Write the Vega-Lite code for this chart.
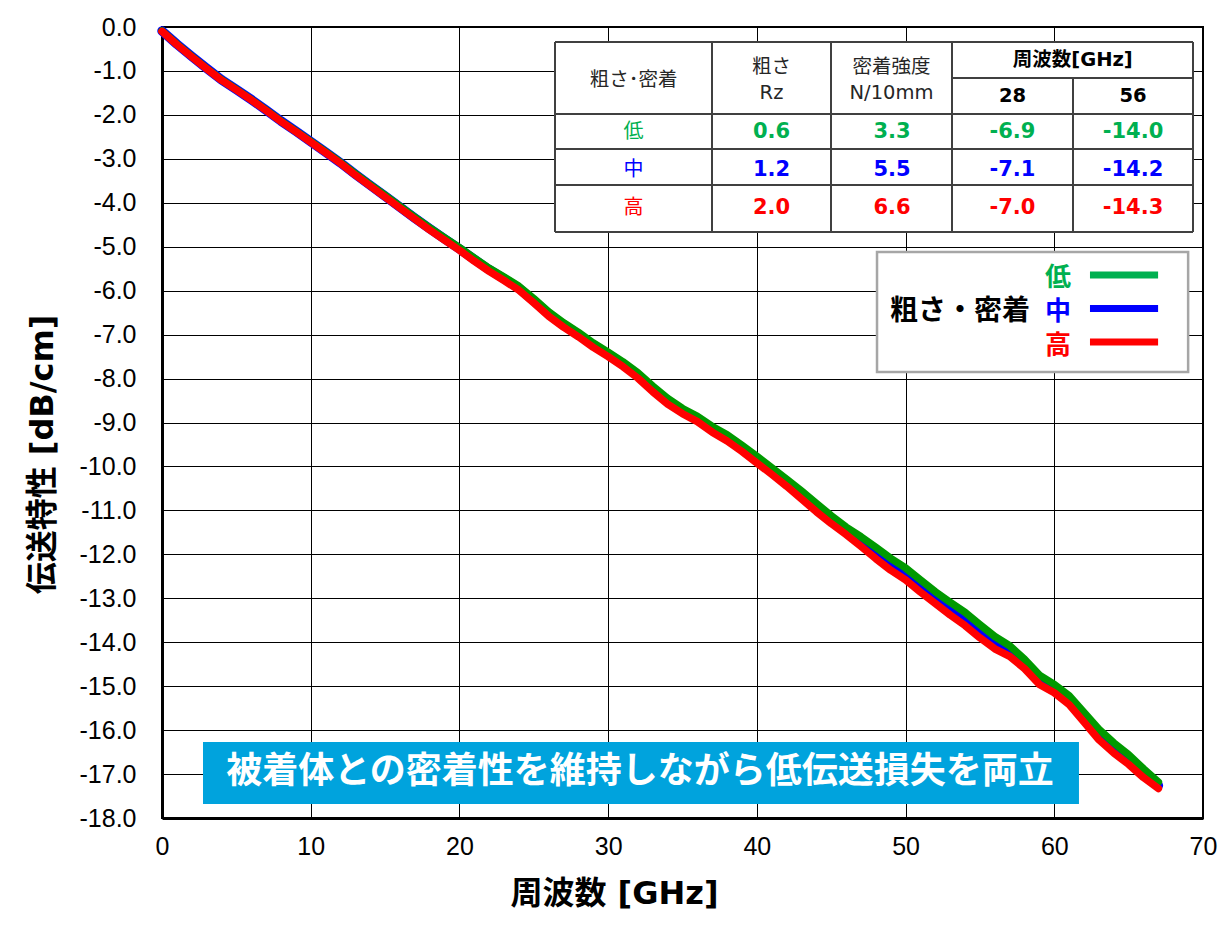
{
  "$schema": "https://vega.github.io/schema/vega-lite/v6.json",
  "width": 1041,
  "height": 791,
  "autosize": {"type": "none"},
  "padding": {"left": 162, "top": 27, "right": 26, "bottom": 110},
  "background": "white",
  "config": {
    "view": {"stroke": "#000000", "strokeWidth": 2},
    "locale": {"number": {"decimal": ".", "thousands": ",", "grouping": [3], "currency": ["$", ""], "minus": "-"}}
  },
  "datasets": {
    "curves": [
      {"f":0,"level":"中","dB":-0.09},{"f":1,"level":"中","dB":-0.39},{"f":2,"level":"中","dB":-0.67},{"f":3,"level":"中","dB":-0.94},{"f":4,"level":"中","dB":-1.20},{"f":5,"level":"中","dB":-1.42},{"f":6,"level":"中","dB":-1.65},{"f":7,"level":"中","dB":-1.89},{"f":8,"level":"中","dB":-2.14},{"f":9,"level":"中","dB":-2.37},
      {"f":10,"level":"中","dB":-2.61},{"f":11,"level":"中","dB":-2.85},{"f":12,"level":"中","dB":-3.09},{"f":13,"level":"中","dB":-3.35},{"f":14,"level":"中","dB":-3.60},{"f":15,"level":"中","dB":-3.85},{"f":16,"level":"中","dB":-4.10},{"f":17,"level":"中","dB":-4.35},{"f":18,"level":"中","dB":-4.59},{"f":19,"level":"中","dB":-4.82},
      {"f":20,"level":"中","dB":-5.05},{"f":21,"level":"中","dB":-5.29},{"f":22,"level":"中","dB":-5.52},{"f":23,"level":"中","dB":-5.73},{"f":24,"level":"中","dB":-5.94},{"f":25,"level":"中","dB":-6.23},{"f":26,"level":"中","dB":-6.53},{"f":27,"level":"中","dB":-6.78},{"f":28,"level":"中","dB":-7.00},{"f":29,"level":"中","dB":-7.24},
      {"f":30,"level":"中","dB":-7.45},{"f":31,"level":"中","dB":-7.67},{"f":32,"level":"中","dB":-7.93},{"f":33,"level":"中","dB":-8.23},{"f":34,"level":"中","dB":-8.51},{"f":35,"level":"中","dB":-8.74},{"f":36,"level":"中","dB":-8.92},{"f":37,"level":"中","dB":-9.15},{"f":38,"level":"中","dB":-9.35},{"f":39,"level":"中","dB":-9.59},
      {"f":40,"level":"中","dB":-9.85},{"f":41,"level":"中","dB":-10.10},{"f":42,"level":"中","dB":-10.37},{"f":43,"level":"中","dB":-10.65},{"f":44,"level":"中","dB":-10.94},{"f":45,"level":"中","dB":-11.22},{"f":46,"level":"中","dB":-11.47},{"f":47,"level":"中","dB":-11.72},{"f":48,"level":"中","dB":-11.98},{"f":49,"level":"中","dB":-12.24},
      {"f":50,"level":"中","dB":-12.46},{"f":51,"level":"中","dB":-12.73},{"f":52,"level":"中","dB":-13.00},{"f":53,"level":"中","dB":-13.25},{"f":54,"level":"中","dB":-13.48},{"f":55,"level":"中","dB":-13.76},{"f":56,"level":"中","dB":-14.02},{"f":57,"level":"中","dB":-14.22},{"f":58,"level":"中","dB":-14.50},{"f":59,"level":"中","dB":-14.86},
      {"f":60,"level":"中","dB":-15.06},{"f":61,"level":"中","dB":-15.32},{"f":62,"level":"中","dB":-15.71},{"f":63,"level":"中","dB":-16.10},{"f":64,"level":"中","dB":-16.41},{"f":65,"level":"中","dB":-16.67},{"f":66,"level":"中","dB":-16.98},{"f":67,"level":"中","dB":-17.26},

      {"f":0,"level":"低","dB":-0.09},{"f":1,"level":"低","dB":-0.39},{"f":2,"level":"低","dB":-0.67},{"f":3,"level":"低","dB":-0.94},{"f":4,"level":"低","dB":-1.20},{"f":5,"level":"低","dB":-1.42},{"f":6,"level":"低","dB":-1.65},{"f":7,"level":"低","dB":-1.89},{"f":8,"level":"低","dB":-2.14},{"f":9,"level":"低","dB":-2.37},
      {"f":10,"level":"低","dB":-2.60},{"f":11,"level":"低","dB":-2.84},{"f":12,"level":"低","dB":-3.08},{"f":13,"level":"低","dB":-3.34},{"f":14,"level":"低","dB":-3.59},{"f":15,"level":"低","dB":-3.83},{"f":16,"level":"低","dB":-4.08},{"f":17,"level":"低","dB":-4.33},{"f":18,"level":"低","dB":-4.57},{"f":19,"level":"低","dB":-4.80},
      {"f":20,"level":"低","dB":-5.02},{"f":21,"level":"低","dB":-5.26},{"f":22,"level":"低","dB":-5.49},{"f":23,"level":"低","dB":-5.69},{"f":24,"level":"低","dB":-5.90},{"f":25,"level":"低","dB":-6.18},{"f":26,"level":"低","dB":-6.48},{"f":27,"level":"低","dB":-6.73},{"f":28,"level":"低","dB":-6.95},{"f":29,"level":"低","dB":-7.19},
      {"f":30,"level":"低","dB":-7.40},{"f":31,"level":"低","dB":-7.62},{"f":32,"level":"低","dB":-7.87},{"f":33,"level":"低","dB":-8.17},{"f":34,"level":"低","dB":-8.45},{"f":35,"level":"低","dB":-8.68},{"f":36,"level":"低","dB":-8.86},{"f":37,"level":"低","dB":-9.09},{"f":38,"level":"低","dB":-9.28},{"f":39,"level":"低","dB":-9.52},
      {"f":40,"level":"低","dB":-9.77},{"f":41,"level":"低","dB":-10.03},{"f":42,"level":"低","dB":-10.29},{"f":43,"level":"低","dB":-10.56},{"f":44,"level":"低","dB":-10.84},{"f":45,"level":"低","dB":-11.12},{"f":46,"level":"低","dB":-11.38},{"f":47,"level":"低","dB":-11.60},{"f":48,"level":"低","dB":-11.84},{"f":49,"level":"低","dB":-12.09},
      {"f":50,"level":"低","dB":-12.31},{"f":51,"level":"低","dB":-12.58},{"f":52,"level":"低","dB":-12.85},{"f":53,"level":"低","dB":-13.09},{"f":54,"level":"低","dB":-13.32},{"f":55,"level":"低","dB":-13.60},{"f":56,"level":"低","dB":-13.87},{"f":57,"level":"低","dB":-14.08},{"f":58,"level":"低","dB":-14.39},{"f":59,"level":"低","dB":-14.75},
      {"f":60,"level":"低","dB":-14.96},{"f":61,"level":"低","dB":-15.22},{"f":62,"level":"低","dB":-15.60},{"f":63,"level":"低","dB":-15.98},{"f":64,"level":"低","dB":-16.29},{"f":65,"level":"低","dB":-16.56},{"f":66,"level":"低","dB":-16.88},{"f":67,"level":"低","dB":-17.18},

      {"f":0,"level":"高","dB":-0.10},{"f":1,"level":"高","dB":-0.40},{"f":2,"level":"高","dB":-0.68},{"f":3,"level":"高","dB":-0.95},{"f":4,"level":"高","dB":-1.21},{"f":5,"level":"高","dB":-1.43},{"f":6,"level":"高","dB":-1.66},{"f":7,"level":"高","dB":-1.90},{"f":8,"level":"高","dB":-2.15},{"f":9,"level":"高","dB":-2.38},
      {"f":10,"level":"高","dB":-2.62},{"f":11,"level":"高","dB":-2.86},{"f":12,"level":"高","dB":-3.10},{"f":13,"level":"高","dB":-3.37},{"f":14,"level":"高","dB":-3.62},{"f":15,"level":"高","dB":-3.87},{"f":16,"level":"高","dB":-4.12},{"f":17,"level":"高","dB":-4.37},{"f":18,"level":"高","dB":-4.62},{"f":19,"level":"高","dB":-4.85},
      {"f":20,"level":"高","dB":-5.08},{"f":21,"level":"高","dB":-5.33},{"f":22,"level":"高","dB":-5.56},{"f":23,"level":"高","dB":-5.77},{"f":24,"level":"高","dB":-5.99},{"f":25,"level":"高","dB":-6.28},{"f":26,"level":"高","dB":-6.58},{"f":27,"level":"高","dB":-6.83},{"f":28,"level":"高","dB":-7.05},{"f":29,"level":"高","dB":-7.29},
      {"f":30,"level":"高","dB":-7.50},{"f":31,"level":"高","dB":-7.73},{"f":32,"level":"高","dB":-7.99},{"f":33,"level":"高","dB":-8.30},{"f":34,"level":"高","dB":-8.58},{"f":35,"level":"高","dB":-8.80},{"f":36,"level":"高","dB":-8.98},{"f":37,"level":"高","dB":-9.22},{"f":38,"level":"高","dB":-9.42},{"f":39,"level":"高","dB":-9.66},
      {"f":40,"level":"高","dB":-9.92},{"f":41,"level":"高","dB":-10.18},{"f":42,"level":"高","dB":-10.45},{"f":43,"level":"高","dB":-10.74},{"f":44,"level":"高","dB":-11.03},{"f":45,"level":"高","dB":-11.30},{"f":46,"level":"高","dB":-11.55},{"f":47,"level":"高","dB":-11.82},{"f":48,"level":"高","dB":-12.10},{"f":49,"level":"高","dB":-12.36},
      {"f":50,"level":"高","dB":-12.58},{"f":51,"level":"高","dB":-12.86},{"f":52,"level":"高","dB":-13.12},{"f":53,"level":"高","dB":-13.38},{"f":54,"level":"高","dB":-13.62},{"f":55,"level":"高","dB":-13.90},{"f":56,"level":"高","dB":-14.15},{"f":57,"level":"高","dB":-14.32},{"f":58,"level":"高","dB":-14.60},{"f":59,"level":"高","dB":-14.96},
      {"f":60,"level":"高","dB":-15.15},{"f":61,"level":"高","dB":-15.42},{"f":62,"level":"高","dB":-15.82},{"f":63,"level":"高","dB":-16.22},{"f":64,"level":"高","dB":-16.52},{"f":65,"level":"高","dB":-16.78},{"f":66,"level":"高","dB":-17.08},{"f":67,"level":"高","dB":-17.33}
    ],
    "tableLines": [
      {"x1":0,"x2":5,"y1":0,"y2":0},
      {"x1":3,"x2":5,"y1":1,"y2":1},
      {"x1":0,"x2":5,"y1":2,"y2":2},
      {"x1":0,"x2":5,"y1":3,"y2":3},
      {"x1":0,"x2":5,"y1":4,"y2":4},
      {"x1":0,"x2":5,"y1":5,"y2":5},
      {"x1":0,"x2":0,"y1":0,"y2":5},
      {"x1":1,"x2":1,"y1":0,"y2":5},
      {"x1":2,"x2":2,"y1":0,"y2":5},
      {"x1":3,"x2":3,"y1":0,"y2":5},
      {"x1":4,"x2":4,"y1":1,"y2":5},
      {"x1":5,"x2":5,"y1":0,"y2":5}
    ],
    "headerNormal": [
      {"text":"粗さ･密着","col":1,"row":0.5},
      {"text":"粗さ","col":2,"row":0},
      {"text":"Rz","col":2,"row":1},
      {"text":"密着強度","col":3,"row":0},
      {"text":"N/10mm","col":3,"row":1}
    ],
    "headerBold": [
      {"text":"周波数[GHz]","col":4.5,"row":0},
      {"text":"28","col":4,"row":1},
      {"text":"56","col":5,"row":1}
    ],
    "tableBody": [
      {"level":"低","item":"Rz","value":0.6},
      {"level":"低","item":"密着強度","value":3.3},
      {"level":"低","item":"28GHz","value":-6.9},
      {"level":"低","item":"56GHz","value":-14.0},
      {"level":"中","item":"Rz","value":1.2},
      {"level":"中","item":"密着強度","value":5.5},
      {"level":"中","item":"28GHz","value":-7.1},
      {"level":"中","item":"56GHz","value":-14.2},
      {"level":"高","item":"Rz","value":2.0},
      {"level":"高","item":"密着強度","value":6.6},
      {"level":"高","item":"28GHz","value":-7.0},
      {"level":"高","item":"56GHz","value":-14.3}
    ],
    "levels": [{"level":"低"},{"level":"中"},{"level":"高"}]
  },
  "resolve": {
    "scale": {"x": "independent", "y": "independent", "color": "independent"},
    "axis": {"x": "independent", "y": "independent"}
  },
  "layer": [
    {
      "data": {"name": "curves"},
      "transform": [{"filter": "datum.level === '中'"}],
      "mark": {"type": "line", "strokeWidth": 9.5, "strokeCap": "round", "strokeJoin": "round"},
      "encoding": {
        "x": {"field": "f", "type": "quantitative", "scale": {"domain": [0, 70], "nice": false, "zero": false},
          "axis": {"values": [0,10,20,30,40,50,60,70], "format": "d", "grid": true, "gridColor": "#000000", "gridWidth": 1, "gridOpacity": 1,
            "ticks": false, "domainColor": "#000000", "domainWidth": 3, "labelFont": "Liberation Sans Narrow, Liberation Sans", "labelFontSize": 25,
            "labelColor": "#000000", "labelPadding": 16, "labelFlush": false, "labelOverlap": false,
            "title": "周波数 [GHz]", "titleFont": "DejaVu Sans, Noto Sans CJK JP", "titleFontSize": 32, "titleFontWeight": "bold", "titleColor": "#000000",
            "titleX": 452, "titleY": 75, "titleAlign": "center", "titleBaseline": "middle"}},
        "y": {"field": "dB", "type": "quantitative", "scale": {"domain": [-18, 0], "nice": false, "zero": false},
          "axis": {"values": [-18,-17,-16,-15,-14,-13,-12,-11,-10,-9,-8,-7,-6,-5,-4,-3,-2,-1,0], "format": ".1f",
            "labelExpr": "replace(datum.label, '\u2212', '-')",
            "grid": true, "gridColor": "#000000", "gridWidth": 1, "gridOpacity": 1,
            "ticks": false, "domainColor": "#000000", "domainWidth": 3, "labelFont": "Liberation Sans Narrow, Liberation Sans", "labelFontSize": 25,
            "labelColor": "#000000", "labelPadding": 26, "labelFlush": false, "labelOverlap": false,
            "title": "伝送特性 [dB/cm]", "titleFont": "DejaVu Sans, Noto Sans CJK JP", "titleFontSize": 32, "titleFontWeight": "bold", "titleColor": "#000000",
            "titleX": -120, "titleY": 427, "titleAngle": -90, "titleAlign": "center", "titleBaseline": "middle"}},
        "color": {"field": "level", "type": "nominal", "scale": {"domain": ["低","中","高"], "range": ["#009a00","#0000ff","#ff0000"]}, "legend": null}
      }
    },
    {
      "data": {"name": "curves"},
      "transform": [{"filter": "datum.level === '低'"}],
      "mark": {"type": "line", "strokeWidth": 7.5, "strokeCap": "round", "strokeJoin": "round"},
      "encoding": {
        "x": {"field": "f", "type": "quantitative", "scale": {"domain": [0, 70], "nice": false, "zero": false}, "axis": null},
        "y": {"field": "dB", "type": "quantitative", "scale": {"domain": [-18, 0], "nice": false, "zero": false}, "axis": null},
        "color": {"field": "level", "type": "nominal", "scale": {"domain": ["低","中","高"], "range": ["#009a00","#0000ff","#ff0000"]}, "legend": null}
      }
    },
    {
      "data": {"name": "curves"},
      "transform": [{"filter": "datum.level === '高'"}],
      "mark": {"type": "line", "strokeWidth": 7.5, "strokeCap": "round", "strokeJoin": "round"},
      "encoding": {
        "x": {"field": "f", "type": "quantitative", "scale": {"domain": [0, 70], "nice": false, "zero": false}, "axis": null},
        "y": {"field": "dB", "type": "quantitative", "scale": {"domain": [-18, 0], "nice": false, "zero": false}, "axis": null},
        "color": {"field": "level", "type": "nominal", "scale": {"domain": ["低","中","高"], "range": ["#009a00","#0000ff","#ff0000"]}, "legend": null}
      }
    },
    {
      "data": {"values": [{}]},
      "mark": {"type": "rect", "fill": "#ffffff", "stroke": null},
      "encoding": {
        "x": {"datum": 0, "type": "quantitative", "scale": {"domain": [0,1,2,3,4,5], "range": [393,550,669,790,911,1031], "nice": false, "zero": false}, "axis": null},
        "x2": {"datum": 5},
        "y": {"datum": 0, "type": "quantitative", "scale": {"domain": [0,1,2,3,4,5], "range": [15,51,87,122,158,205], "nice": false, "zero": false}, "axis": null},
        "y2": {"datum": 5}
      }
    },
    {
      "data": {"name": "tableLines"},
      "mark": {"type": "rule", "stroke": "#404040", "strokeWidth": 2},
      "encoding": {
        "x": {"field": "x1", "type": "quantitative", "scale": {"domain": [0,1,2,3,4,5], "range": [393,550,669,790,911,1031], "nice": false, "zero": false}, "axis": null},
        "x2": {"field": "x2"},
        "y": {"field": "y1", "type": "quantitative", "scale": {"domain": [0,1,2,3,4,5], "range": [15,51,87,122,158,205], "nice": false, "zero": false}, "axis": null},
        "y2": {"field": "y2"}
      }
    },
    {
      "data": {"name": "headerNormal"},
      "mark": {"type": "text", "font": "DejaVu Sans, Noto Sans CJK JP", "fontSize": 19.5, "fill": "#262626", "align": "center", "baseline": "middle"},
      "encoding": {
        "x": {"field": "col", "type": "quantitative", "scale": {"domain": [1,2,3,4,5], "range": [471.5,609.5,729.5,850.5,971], "nice": false, "zero": false}, "axis": null},
        "y": {"field": "row", "type": "quantitative", "scale": {"domain": [0, 1], "range": [40, 66], "nice": false, "zero": false}, "axis": null},
        "text": {"field": "text", "type": "nominal"}
      }
    },
    {
      "data": {"name": "headerBold"},
      "mark": {"type": "text", "font": "DejaVu Sans, Noto Sans CJK JP", "fontSize": 19.5, "fontWeight": "bold", "fill": "#000000", "align": "center", "baseline": "middle"},
      "encoding": {
        "x": {"field": "col", "type": "quantitative", "scale": {"domain": [1,2,3,4,5], "range": [471.5,609.5,729.5,850.5,971], "nice": false, "zero": false}, "axis": null},
        "y": {"field": "row", "type": "quantitative", "scale": {"domain": [0, 1], "range": [33, 69], "nice": false, "zero": false}, "axis": null},
        "text": {"field": "text", "type": "nominal"}
      }
    },
    {
      "data": {"name": "levels"},
      "mark": {"type": "text", "font": "Noto Sans CJK JP", "fontSize": 20, "align": "center", "baseline": "middle"},
      "encoding": {
        "x": {"datum": 1, "type": "quantitative", "scale": {"domain": [1,2,3,4,5], "range": [471.5,609.5,729.5,850.5,971], "nice": false, "zero": false}, "axis": null},
        "y": {"field": "level", "type": "nominal", "scale": {"type": "point", "domain": ["低","中","高"], "range": [104.5, 181], "padding": 0}, "axis": null},
        "text": {"field": "level", "type": "nominal"},
        "color": {"field": "level", "type": "nominal", "scale": {"domain": ["低","中","高"], "range": ["#00b050","#0000ff","#ff0000"]}, "legend": null}
      }
    },
    {
      "data": {"name": "tableBody"},
      "mark": {"type": "text", "font": "DejaVu Sans, Noto Sans CJK JP", "fontSize": 21, "fontWeight": "bold", "align": "center", "baseline": "middle"},
      "encoding": {
        "x": {"field": "item", "type": "nominal", "scale": {"type": "point", "domain": ["Rz","密着強度","28GHz","56GHz"], "range": [609.5, 971], "padding": 0}, "axis": null},
        "y": {"field": "level", "type": "nominal", "scale": {"type": "point", "domain": ["低","中","高"], "range": [104.5, 181], "padding": 0}, "axis": null},
        "text": {"field": "value", "type": "quantitative", "format": ".1f"},
        "color": {"field": "level", "type": "nominal", "scale": {"domain": ["低","中","高"], "range": ["#00b050","#0000ff","#ff0000"]}, "legend": null}
      }
    },
    {
      "data": {"values": [{}]},
      "mark": {"type": "rect", "fill": "#ffffff", "stroke": "#a6a6a6", "strokeWidth": 2.5},
      "encoding": {
        "x": {"datum": 48.08, "type": "quantitative", "scale": {"domain": [0, 70], "nice": false, "zero": false}, "axis": null},
        "x2": {"datum": 69.0},
        "y": {"datum": -5.12, "type": "quantitative", "scale": {"domain": [-18, 0], "nice": false, "zero": false}, "axis": null},
        "y2": {"datum": -7.85}
      }
    },
    {
      "data": {"values": [{"title": "粗さ・密着"}]},
      "mark": {"type": "text", "font": "Noto Sans CJK JP", "fontSize": 28, "fontWeight": "bold", "fill": "#000000", "align": "center", "baseline": "middle"},
      "encoding": {
        "x": {"datum": 53.66, "type": "quantitative", "scale": {"domain": [0, 70], "nice": false, "zero": false}, "axis": null},
        "y": {"datum": -6.48, "type": "quantitative", "scale": {"domain": [-18, 0], "nice": false, "zero": false}, "axis": null},
        "text": {"field": "title", "type": "nominal"}
      }
    },
    {
      "data": {"name": "levels"},
      "mark": {"type": "text", "font": "Noto Sans CJK JP", "fontSize": 26, "fontWeight": "bold", "align": "center", "baseline": "middle"},
      "encoding": {
        "x": {"datum": 60.25, "type": "quantitative", "scale": {"domain": [0, 70], "nice": false, "zero": false}, "axis": null},
        "y": {"field": "level", "type": "nominal", "scale": {"type": "point", "domain": ["低","中","高"], "range": [251, 318.5], "padding": 0}, "axis": null},
        "text": {"field": "level", "type": "nominal"},
        "color": {"field": "level", "type": "nominal", "scale": {"domain": ["低","中","高"], "range": ["#00b050","#0000ff","#ff0000"]}, "legend": null}
      }
    },
    {
      "data": {"name": "levels"},
      "mark": {"type": "rule", "strokeWidth": 7},
      "encoding": {
        "x": {"datum": 62.4, "type": "quantitative", "scale": {"domain": [0, 70], "nice": false, "zero": false}, "axis": null},
        "x2": {"datum": 66.98},
        "y": {"field": "level", "type": "nominal", "scale": {"type": "point", "domain": ["低","中","高"], "range": [248, 315], "padding": 0}, "axis": null},
        "color": {"field": "level", "type": "nominal", "scale": {"domain": ["低","中","高"], "range": ["#00b050","#0000ff","#ff0000"]}, "legend": null}
      }
    },
    {
      "data": {"values": [{}]},
      "mark": {"type": "rect", "fill": "#00a3dd", "stroke": null},
      "encoding": {
        "x": {"datum": 2.757, "type": "quantitative", "scale": {"domain": [0, 70], "nice": false, "zero": false}, "axis": null},
        "x2": {"datum": 61.66},
        "y": {"datum": -16.27, "type": "quantitative", "scale": {"domain": [-18, 0], "nice": false, "zero": false}, "axis": null},
        "y2": {"datum": -17.68}
      }
    },
    {
      "data": {"values": [{"message": "被着体との密着性を維持しながら低伝送損失を両立"}]},
      "mark": {"type": "text", "font": "Noto Sans CJK JP", "fontSize": 36, "fontWeight": "bold", "fill": "#ffffff", "align": "center", "baseline": "middle"},
      "encoding": {
        "x": {"datum": 32.14, "type": "quantitative", "scale": {"domain": [0, 70], "nice": false, "zero": false}, "axis": null},
        "y": {"datum": -16.95, "type": "quantitative", "scale": {"domain": [-18, 0], "nice": false, "zero": false}, "axis": null},
        "text": {"field": "message", "type": "nominal"}
      }
    }
  ]
}
